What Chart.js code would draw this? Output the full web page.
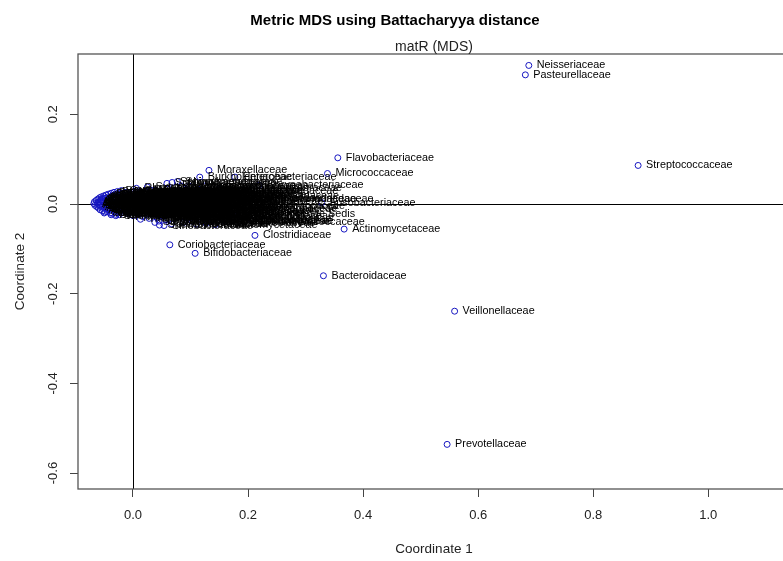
<!DOCTYPE html>
<html>
<head>
<meta charset="utf-8">
<title>Metric MDS using Battacharyya distance</title>
<script src="https://cdn.jsdelivr.net/npm/chart.js@4.4.1/dist/chart.umd.min.js"></script>
<style>
    html, body { margin: 0; padding: 0; background: #fff; overflow: hidden; }
    canvas { display: block; }
</style>
</head>
<body>
<canvas id="mds-chart" width="822" height="561"></canvas>
<script>
// families far from the cloud
var outlierNames = [
    'Neisseriaceae', 'Pasteurellaceae', 'Flavobacteriaceae', 'Micrococcaceae', 'Streptococcaceae',
    'Bacteroidaceae', 'Veillonellaceae', 'Prevotellaceae', 'Fusobacteriaceae', 'Actinomycetaceae',
    'Clostridiaceae', 'Coriobacteriaceae', 'Bifidobacteriaceae', 'Moraxellaceae', 'Burkholderiaceae',
    'Enterobacteriaceae', 'Corynebacteriaceae'
]
var outlierCoord1 = [
    0.688, 0.682, 0.356, 0.338, 0.878,
    0.331, 0.559, 0.546, 0.328, 0.367,
    0.212, 0.064, 0.108, 0.132, 0.116,
    0.177, 0.219
]
var outlierCoord2 = [
    0.309, 0.288, 0.103, 0.068, 0.086,
    -0.160, -0.239, -0.536, 0.003, -0.056,
    -0.070, -0.091, -0.110, 0.075, 0.060,
    0.060, 0.042
]

// families packed near the origin
var clusterNames = [
    'Acetobacteraceae', 'Acholeplasmataceae', 'Acidaminococcaceae', 'Acidimicrobiaceae', 'Acidithiobacillaceae',
    'Acidobacteriaceae', 'Aerococcaceae', 'Aeromonadaceae', 'Alcaligenaceae', 'Alcanivoracaceae',
    'Alicyclobacillaceae', 'Alteromonadaceae', 'Anaerolineaceae', 'Anaplasmataceae', 'Aquificaceae',
    'Bacillaceae', 'Bartonellaceae', 'Bdellovibrionaceae', 'Beijerinckiaceae', 'Bradyrhizobiaceae',
    'Brevibacteriaceae', 'Brucellaceae', 'Caldicellulosiruptoraceae', 'Campylobacteraceae', 'Carnobacteriaceae',
    'Caulobacteraceae', 'Cellulomonadaceae', 'Chlamydiaceae', 'Chlorobiaceae', 'Chloroflexaceae',
    'Chromatiaceae', 'Chrysiogenaceae', 'Colwelliaceae', 'Comamonadaceae', 'Conexibacteraceae',
    'Coxiellaceae', 'Cryomorphaceae', 'Cyclobacteriaceae', 'Cytophagaceae', 'Deferribacteraceae',
    'Deinococcaceae', 'Dermabacteraceae', 'Dermacoccaceae', 'Desulfobacteraceae', 'Desulfobulbaceae',
    'Desulfohalobiaceae', 'Desulfomicrobiaceae', 'Desulfovibrionaceae', 'Desulfurococcaceae', 'Dictyoglomaceae',
    'Dietziaceae', 'Ectothiorhodospiraceae', 'Elusimicrobiaceae', 'Enterococcaceae', 'Erysipelotrichaceae',
    'Erythrobacteraceae', 'Eubacteriaceae', 'Ferrimonadaceae', 'Flammeovirgaceae', 'Francisellaceae',
    'Frankiaceae', 'Gemmatimonadaceae', 'Geobacteraceae', 'Geodermatophilaceae', 'Gordoniaceae',
    'Hahellaceae', 'Halanaerobiaceae', 'Halobacteriaceae', 'Halomonadaceae', 'Halothiobacillaceae',
    'Helicobacteraceae', 'Heliobacteriaceae', 'Hydrogenophilaceae', 'Hyphomicrobiaceae', 'Hyphomonadaceae',
    'Idiomarinaceae', 'Intrasporangiaceae', 'Kineosporiaceae', 'Lachnospiraceae', 'Lactobacillaceae',
    'Legionellaceae', 'Leptospiraceae', 'Leuconostocaceae', 'Listeriaceae', 'Methanobacteriaceae',
    'Methanococcaceae', 'Methanosarcinaceae', 'Methylobacteriaceae', 'Methylococcaceae', 'Methylophilaceae',
    'Microbacteriaceae', 'Moritellaceae', 'Mycobacteriaceae', 'Mycoplasmataceae', 'Myxococcaceae',
    'Nakamurellaceae', 'Nautiliaceae', 'Nitrosomonadaceae', 'Nitrospiraceae', 'Nocardiaceae',
    'Nocardioidaceae', 'Nocardiopsaceae', 'Nostocaceae', 'Oceanospirillaceae', 'Oscillatoriaceae',
    'Oxalobacteraceae', 'Paenibacillaceae', 'Pelobacteraceae', 'Peptococcaceae', 'Phyllobacteriaceae',
    'Piscirickettsiaceae', 'Planctomycetaceae', 'Planococcaceae', 'Porphyromonadaceae', 'Propionibacteriaceae',
    'Pseudoalteromonadaceae', 'Pseudomonadaceae', 'Pseudonocardiaceae', 'Psychromonadaceae', 'Rhizobiaceae',
    'Rhodobacteraceae', 'Rhodocyclaceae', 'Rhodospirillaceae', 'Rhodothermaceae', 'Rickettsiaceae',
    'Rikenellaceae', 'Ruminococcaceae', 'Saprospiraceae', 'Shewanellaceae', 'Sinobacteraceae',
    'Sphingobacteriaceae', 'Sphingomonadaceae', 'Spirochaetaceae', 'Sporolactobacillaceae', 'Staphylococcaceae',
    'Streptomycetaceae', 'Streptosporangiaceae', 'Succinivibrionaceae', 'Syntrophaceae', 'Syntrophomonadaceae',
    'Thermaceae', 'Thermoanaerobacteraceae', 'Thermotogaceae', 'Thermomonosporaceae', 'Vibrionaceae',
    'Xanthomonadaceae', 'Clostridiales Family XI. Incertae Sedis', 'Clostridiales Family XIII. Incertae Sedis', 'Leptotrichiaceae', 'Peptostreptococcaceae'
]
var clusterCoord1 = [
    -0.068, -0.067, -0.066, -0.064, -0.063,
    -0.061, -0.060, -0.058, -0.057, -0.055,
    -0.053, -0.051, -0.049, -0.047, -0.045,
    -0.043, -0.040, -0.038, -0.036, -0.033,
    -0.030, -0.027, -0.024, -0.020, -0.062,
    -0.059, -0.057, -0.055, -0.054, -0.052,
    -0.050, -0.049, -0.047, -0.046, -0.044,
    -0.043, -0.041, -0.040, -0.038, -0.037,
    -0.035, -0.034, -0.032, -0.031, -0.029,
    -0.028, -0.026, -0.025, -0.023, -0.021,
    -0.019, -0.018, -0.016, -0.014, -0.012,
    -0.010, -0.008, -0.006, -0.004, -0.002,
    0.000, 0.002, 0.004, 0.006, 0.008,
    0.010, 0.012, 0.015, 0.017, 0.019,
    0.021, 0.024, 0.026, 0.028, 0.031,
    0.033, 0.035, 0.038, 0.040, 0.043,
    0.045, 0.048, 0.050, 0.053, 0.056,
    0.058, 0.061, 0.064, 0.067, 0.070,
    0.073, 0.076, 0.079, 0.082, 0.085,
    0.088, 0.091, 0.094, 0.097, 0.100,
    0.104, 0.107, 0.110, 0.114, 0.117,
    0.120, 0.124, 0.128, 0.131, 0.135,
    0.139, 0.143, 0.147, 0.151, 0.111,
    0.155, 0.160, 0.164, 0.168, 0.173,
    0.006, 0.178, 0.182, 0.187, 0.192,
    0.196, 0.200, 0.038, 0.046, 0.054,
    0.059, 0.068, 0.077, -0.050, -0.038,
    -0.030, 0.085, 0.125, 0.025, 0.210,
    0.205, 0.013, 0.062, 0.150, 0.098,
    0.175, 0.056, -0.016, 0.103, 0.193
]
var clusterCoord2 = [
    0.001, 0.005, -0.003, 0.008, -0.006,
    0.011, -0.009, 0.014, -0.013, 0.016,
    -0.015, 0.018, -0.018, 0.020, -0.017,
    0.022, -0.020, 0.024, -0.021, 0.026,
    -0.023, 0.028, -0.024, 0.030, 0.002,
    -0.003, 0.006, -0.006, 0.010, 0.001,
    -0.009, 0.012, 0.004, -0.012, 0.015,
    -0.004, 0.008, -0.014, 0.017, 0.000,
    -0.009, 0.012, -0.017, 0.020, 0.004,
    -0.006, 0.015, -0.013, 0.023, -0.002,
    0.009, -0.019, 0.018, -0.008, 0.026,
    0.002, -0.022, 0.013, -0.012, 0.022,
    -0.026, 0.005, -0.004, 0.029, -0.018,
    0.016, -0.009, 0.008, -0.028, 0.024,
    -0.002, -0.015, 0.012, -0.032, 0.031,
    0.003, -0.022, 0.019, -0.010, 0.007,
    -0.038, 0.027, -0.004, -0.027, 0.014,
    -0.016, 0.034, 0.001, -0.044, 0.022,
    -0.008, -0.030, 0.009, 0.030, -0.019,
    -0.041, 0.017, -0.002, -0.034, 0.026,
    -0.012, 0.008, -0.045, 0.033, -0.024,
    0.013, -0.006, -0.036, 0.022, -0.016,
    0.004, -0.046, 0.028, -0.027, 0.020,
    0.011, -0.039, -0.008, 0.018, -0.021,
    0.035, 0.006, -0.033, -0.012, 0.013,
    -0.026, -0.005, -0.041, -0.047, -0.048,
    0.046, 0.048, 0.050, -0.020, -0.024,
    -0.026, 0.040, 0.040, 0.038, 0.010,
    -0.035, -0.034, -0.035, 0.035, 0.040,
    0.028, -0.022, -0.013, 0.002, -0.040
]

// second batch of the cloud
var moreNames = [
    'Aurantimonadaceae', 'Bacteriovoracaceae', 'Blattabacteriaceae', 'Brachyspiraceae', 'Catenulisporaceae',
    'Cellvibrionaceae', 'Chitinophagaceae', 'Christensenellaceae', 'Chromobacteriaceae', 'Cystobacteraceae',
    'Defluviitaleaceae', 'Dehalococcoidaceae', 'Desulfarculaceae', 'Desulfitobacteriaceae', 'Desulfonatronaceae',
    'Desulfurellaceae', 'Entomoplasmataceae', 'Fibrobacteraceae', 'Gallionellaceae', 'Gloeobacteraceae',
    'Glycomycetaceae', 'Haliangiaceae', 'Halobacteroidaceae', 'Hydrogenothermaceae', 'Hymenobacteraceae',
    'Jonesiaceae', 'Ktedonobacteraceae', 'Kiloniellaceae', 'Lentisphaeraceae', 'Methanocaldococcaceae',
    'Methanocellaceae', 'Methanocorpusculaceae', 'Methanomicrobiaceae', 'Methanoregulaceae', 'Methanospirillaceae',
    'Methanothermaceae', 'Methylocystaceae', 'Microthrixaceae', 'Micromonosporaceae', 'Nannocystaceae',
    'Natranaerobiaceae', 'Nitrosopumilaceae', 'Opitutaceae', 'Parachlamydiaceae', 'Pasteuriaceae',
    'Pectobacteriaceae', 'Phycisphaeraceae', 'Picrophilaceae', 'Polyangiaceae', 'Prochloraceae',
    'Promicromonosporaceae', 'Pseudanabaenaceae', 'Puniceicoccaceae', 'Pyrodictiaceae', 'Rhodobiaceae',
    'Rubrobacteraceae', 'Ruaniaceae', 'Sanguibacteraceae', 'Segniliparaceae', 'Simkaniaceae',
    'Solibacteraceae', 'Sphaerobacteraceae', 'Spirosomaceae', 'Sulfolobaceae', 'Synergistaceae',
    'Syntrophobacteraceae', 'Syntrophorhabdaceae', 'Thermococcaceae', 'Thermodesulfobacteriaceae', 'Thermofilaceae',
    'Thermoproteaceae', 'Thiotrichaceae', 'Tissierellaceae', 'Trueperaceae', 'Tsukamurellaceae',
    'Verrucomicrobiaceae', 'Victivallaceae', 'Waddliaceae', 'Weeksellaceae', 'Williamsiaceae'
]
var moreCoord1 = [
    -0.060, -0.058, -0.056, -0.053, -0.051, -0.048, -0.046, -0.044, -0.042, -0.039,
    -0.037, -0.035, -0.033, -0.031, -0.029, -0.027, -0.025, -0.023, -0.021, -0.019,
    -0.017, -0.015, -0.013, -0.011, -0.009, -0.007, -0.005, -0.003, -0.001, 0.001,
    0.003, 0.005, 0.007, 0.009, 0.011, 0.013, 0.016, 0.018, 0.020, 0.022,
    0.025, 0.027, 0.030, 0.032, 0.034, 0.037, 0.039, 0.042, 0.044, 0.047,
    0.049, 0.052, 0.055, 0.057, 0.060, 0.063, 0.066, 0.069, 0.072, 0.075,
    0.078, 0.081, 0.084, 0.087, 0.090, 0.093, 0.096, 0.099, 0.102, 0.106,
    0.109, 0.113, 0.116, 0.119, 0.123, 0.127, 0.132, 0.137, 0.142, 0.148
]
var moreCoord2 = [
    0.004, -0.001, 0.009, -0.004, 0.013, -0.007, 0.007, -0.011, 0.002, 0.014,
    -0.005, 0.019, 0.001, -0.012, 0.010, 0.017, -0.018, 0.006, -0.008, 0.024,
    0.003, -0.015, 0.014, -0.003, 0.020, -0.016, 0.007, 0.026, -0.005, 0.017,
    -0.012, 0.011, -0.021, 0.001, 0.025, -0.005, 0.019, -0.014, 0.004, 0.029,
    -0.024, 0.008, -0.007, 0.021, -0.017, 0.000, 0.031, -0.031, 0.012, -0.011,
    0.020, -0.020, 0.005, -0.035, 0.027, -0.010, 0.011, -0.024, 0.003, 0.017,
    -0.014, 0.024, -0.029, 0.005, -0.007, 0.031, -0.020, 0.011, -0.038, 0.019,
    -0.002, -0.030, 0.025, -0.014, 0.006, -0.043, 0.015, -0.006, 0.024, -0.018
]

var xTicks = [0, 0.2, 0.4, 0.6, 0.8, 1.0]
var yTicks = [-0.6, -0.4, -0.2, 0, 0.2]
var xRange = [-0.0956, 1.142]
var yRange = [-0.6355, 0.3345]

var familyNames = clusterNames.concat(moreNames, outlierNames)
var coord1 = clusterCoord1.concat(moreCoord1, outlierCoord1)
var coord2 = clusterCoord2.concat(moreCoord2, outlierCoord2)

const FONT = '"Liberation Sans", Arial, sans-serif'

// zero lines, point labels, frame and subtitle
const mdsDecor = {
    id: 'mdsDecor',
    beforeDatasetsDraw(chart) {
        const { ctx, chartArea, scales } = chart
        const x0 = Math.round(scales.x.getPixelForValue(0)) + 0.5
        const y0 = Math.round(scales.y.getPixelForValue(0)) + 0.5
        ctx.save()
        ctx.strokeStyle = '#000'
        ctx.lineWidth = 1
        ctx.beginPath()
        ctx.moveTo(x0, chartArea.top)
        ctx.lineTo(x0, chartArea.bottom)
        ctx.moveTo(chartArea.left, y0)
        ctx.lineTo(chartArea.right, y0)
        ctx.stroke()
        ctx.restore()
    },
    afterDatasetsDraw(chart) {
        const ctx = chart.ctx
        const meta = chart.getDatasetMeta(0)
        ctx.save()
        ctx.font = '10.8px ' + FONT
        ctx.fillStyle = '#000'
        ctx.textAlign = 'left'
        ctx.textBaseline = 'middle'
        meta.data.forEach(function (pt, i) {
            ctx.fillText(familyNames[i], pt.x + 8, pt.y)
        })
        ctx.restore()
    },
    afterDraw(chart) {
        const { ctx, chartArea } = chart
        ctx.save()
        ctx.strokeStyle = '#555'
        ctx.lineWidth = 1.3
        ctx.strokeRect(chartArea.left, chartArea.top, chartArea.right - chartArea.left, chartArea.bottom - chartArea.top)
        ctx.font = '14px ' + FONT
        ctx.fillStyle = '#222'
        ctx.textAlign = 'center'
        ctx.textBaseline = 'middle'
        ctx.fillText('matR (MDS)', (chartArea.left + chartArea.right) / 2, chartArea.top - 7)
        ctx.restore()
    }
}

new Chart('mds-chart', {
    type: 'scatter',
    data: {
        datasets: [{
            data: familyNames.map(function (n, i) { return { x: coord1[i], y: coord2[i] } }),
            pointRadius: 3,
            pointHoverRadius: 3,
            pointBorderWidth: 1,
            pointBorderColor: '#1515c0',
            pointBackgroundColor: 'rgba(0,0,0,0)'
        }]
    },
    options: {
        responsive: false,
        animation: false,
        devicePixelRatio: 1,
        layout: { padding: { right: 32 } },
        plugins: {
            legend: { display: false },
            tooltip: { enabled: false },
            title: {
                display: true,
                text: 'Metric MDS using Battacharyya distance',
                color: '#000',
                font: { family: FONT, size: 15, weight: 'bold' },
                padding: { top: 12, bottom: 24 }
            }
        },
        scales: {
            x: {
                type: 'linear',
                min: xRange[0],
                max: xRange[1],
                afterBuildTicks: function (s) { s.ticks = xTicks.map(function (v) { return { value: v } }) },
                afterFit: function (s) { s.height = 72 },
                border: { display: false },
                grid: { drawOnChartArea: false, drawTicks: true, tickLength: 8, tickColor: '#444' },
                ticks: {
                    color: '#222',
                    padding: 11,
                    font: { family: FONT, size: 13 },
                    callback: function (v) { return v.toFixed(1) }
                },
                title: {
                    display: true,
                    text: 'Coordinate 1',
                    color: '#222',
                    font: { family: FONT, size: 13.5 },
                    padding: { top: 0, bottom: 4 }
                }
            },
            y: {
                type: 'linear',
                min: yRange[0],
                max: yRange[1],
                afterBuildTicks: function (s) { s.ticks = yTicks.map(function (v) { return { value: v } }) },
                afterFit: function (s) { s.width = 78 },
                border: { display: false },
                grid: { drawOnChartArea: false, drawTicks: true, tickLength: 8, tickColor: '#444' },
                ticks: {
                    color: '#222',
                    padding: 5,
                    minRotation: 90,
                    maxRotation: 90,
                    crossAlign: 'center',
                    font: { family: FONT, size: 13 },
                    callback: function (v) { return v.toFixed(1) }
                },
                title: {
                    display: true,
                    text: 'Coordinate 2',
                    color: '#222',
                    font: { family: FONT, size: 13.5 },
                    padding: { top: 12, bottom: 0 }
                }
            }
        }
    },
    plugins: [mdsDecor]
})
</script>
</body>
</html>
